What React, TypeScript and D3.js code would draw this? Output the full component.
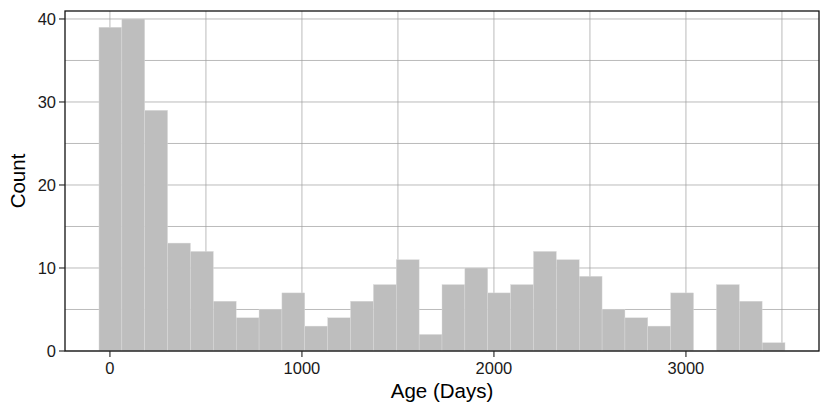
import React from "react";
import * as d3 from "d3";

const binStart = -57;
const binWidth = 119.1;
const counts = [39, 40, 29, 13, 12, 6, 4, 5, 7, 3, 4, 6, 8, 11, 2, 8, 10, 7, 8, 12, 11, 9, 5, 4, 3, 7, 0, 8, 6, 1];
const xTicks = [0, 1000, 2000, 3000];
const xGrid = [0, 500, 1000, 1500, 2000, 2500, 3000, 3500];
const yTicks = [0, 10, 20, 30, 40];
const yGrid = [0, 5, 10, 15, 20, 25, 30, 35, 40];

const W = 830;
const H = 415;
const left = 65;
const right = 819;
const top = 11;
const bottom = 351;

export default function App() {
  const x = d3.scaleLinear().domain([-234, 3693]).range([left, right]);
  const y = d3.scaleLinear().domain([0, 40.96]).range([bottom, top]);
  const font = "'Liberation Sans', Arial, Helvetica, sans-serif";
  return (
    <svg width={W} height={H} style={{ position: "absolute", left: 0, top: 0, background: "#fff" }} fontFamily={font}>
      <rect x={0} y={0} width={W} height={H} fill="#fff" />
      {xGrid.map((v) => (
        <line key={"gx" + v} x1={x(v)} x2={x(v)} y1={top} y2={bottom} stroke="#9e9e9e" strokeWidth={0.7} />
      ))}
      {yGrid.map((v) => (
        <line key={"gy" + v} x1={left} x2={right} y1={y(v)} y2={y(v)} stroke="#9e9e9e" strokeWidth={0.7} />
      ))}
      {counts.map((c, i) => {
        const x0 = x(binStart + i * binWidth);
        const x1 = x(binStart + (i + 1) * binWidth);
        if (c === 0) return null;
        return (
          <rect key={"b" + i} x={x0} y={y(c)} width={x1 - x0} height={y(0) - y(c)} fill="#bebebe" stroke="#dcdcdc" strokeWidth={0.4} />
        );
      })}
      <rect x={left} y={top} width={right - left} height={bottom - top} fill="none" stroke="#111" strokeWidth={1.3} />
      {xTicks.map((v) => (
        <g key={"tx" + v}>
          <line x1={x(v)} x2={x(v)} y1={bottom} y2={bottom + 6} stroke="#222" strokeWidth={1.1} />
          <text x={x(v)} y={bottom + 23} textAnchor="middle" fontSize={16.5} fill="#1a1a1a">{v}</text>
        </g>
      ))}
      {yTicks.map((v) => (
        <g key={"ty" + v}>
          <line x1={left - 6} x2={left} y1={y(v)} y2={y(v)} stroke="#222" strokeWidth={1.1} />
          <text x={left - 9} y={y(v) + 6} textAnchor="end" fontSize={16.5} fill="#1a1a1a">{v}</text>
        </g>
      ))}
      <text x={(left + right) / 2} y={398} textAnchor="middle" fontSize={20.5} fill="#000">Age (Days)</text>
      <text transform={`translate(25, ${(top + bottom) / 2}) rotate(-90)`} textAnchor="middle" fontSize={20.5} fill="#000">Count</text>
    </svg>
  );
}
